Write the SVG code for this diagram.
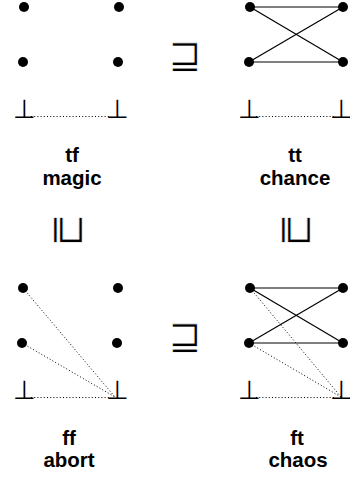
<svg xmlns="http://www.w3.org/2000/svg" width="350" height="477" viewBox="0 0 350 477">
<style>
.dot{fill:#000}
.edge{stroke:#000;stroke-width:1.2;fill:none}
.dotted{stroke:#000;stroke-width:1;stroke-dasharray:1 2.2;fill:none}
.bot{font-family:"DejaVu Sans",sans-serif;font-weight:200;font-size:26px;text-anchor:middle;fill:#000}
.rel{font-family:"DejaVu Sans",sans-serif;font-size:40px;text-anchor:middle;fill:#000;stroke:#fff;stroke-width:0.8}
.lbl{font-family:"Liberation Sans",Arial,sans-serif;font-weight:bold;font-size:20.5px;text-anchor:middle;fill:#000}
</style>
<rect width="350" height="477" fill="#fff"/>
<g id="connectors">
  <line class="dotted" x1="31" y1="116.5" x2="111" y2="116.5"/>
  <line class="edge" x1="250" y1="7" x2="343" y2="7"/>
  <line class="edge" x1="249" y1="62" x2="343" y2="62"/>
  <line class="edge" x1="250" y1="7" x2="343" y2="62"/>
  <line class="edge" x1="249" y1="62" x2="343" y2="7"/>
  <line class="dotted" x1="256" y1="116.5" x2="335" y2="116.5"/>
  <line class="dotted" x1="31" y1="397.5" x2="111" y2="397.5"/>
  <line class="dotted" x1="23" y1="288" x2="115" y2="397"/>
  <line class="dotted" x1="22" y1="343" x2="115" y2="397"/>
  <line class="edge" x1="250" y1="288" x2="343" y2="288"/>
  <line class="edge" x1="249" y1="343" x2="343" y2="343"/>
  <line class="edge" x1="250" y1="288" x2="343" y2="343"/>
  <line class="edge" x1="249" y1="343" x2="343" y2="288"/>
  <line class="dotted" x1="256" y1="397.5" x2="335" y2="397.5"/>
  <line class="dotted" x1="250" y1="288" x2="341" y2="397"/>
  <line class="dotted" x1="249" y1="343" x2="341" y2="397"/>
</g>
<g id="tf">
  <circle class="dot" cx="24" cy="7" r="5"/>
  <circle class="dot" cx="119" cy="7" r="5"/>
  <circle class="dot" cx="23" cy="62" r="5"/>
  <circle class="dot" cx="118" cy="62" r="5"/>
  <text class="bot" x="24" y="118">⊥</text>
  <text class="bot" x="117" y="118">⊥</text>
  <text class="lbl" x="72" y="162">tf</text>
  <text class="lbl" x="72" y="185">magic</text>
</g>
<g id="tt">
  <circle class="dot" cx="250" cy="7" r="5"/>
  <circle class="dot" cx="343" cy="7" r="5"/>
  <circle class="dot" cx="249" cy="62" r="5"/>
  <circle class="dot" cx="343" cy="62" r="5"/>
  <text class="bot" x="249" y="118">⊥</text>
  <text class="bot" x="341" y="118">⊥</text>
  <text class="lbl" x="295" y="162">tt</text>
  <text class="lbl" x="295" y="185">chance</text>
</g>
<g id="ff">
  <circle class="dot" cx="23" cy="288" r="5"/>
  <circle class="dot" cx="118" cy="288" r="5"/>
  <circle class="dot" cx="22" cy="343" r="5"/>
  <circle class="dot" cx="117" cy="343" r="5"/>
  <text class="bot" x="24" y="399">⊥</text>
  <text class="bot" x="117" y="399">⊥</text>
  <text class="lbl" x="69" y="445">ff</text>
  <text class="lbl" x="69" y="467">abort</text>
</g>
<g id="ft">
  <circle class="dot" cx="250" cy="288" r="5"/>
  <circle class="dot" cx="343" cy="288" r="5"/>
  <circle class="dot" cx="249" cy="343" r="5"/>
  <circle class="dot" cx="343" cy="343" r="5"/>
  <text class="bot" x="249" y="399">⊥</text>
  <text class="bot" x="341" y="399">⊥</text>
  <text class="lbl" x="297" y="445">ft</text>
  <text class="lbl" x="298" y="467">chaos</text>
</g>
<g id="relations">
  <text class="rel" x="185" y="68">⊒</text>
  <text class="rel" x="185" y="349">⊒</text>
  <text class="rel" transform="translate(71,230) rotate(90)" x="0" y="14">⊒</text>
  <text class="rel" transform="translate(299,230) rotate(90)" x="0" y="14">⊒</text>
</g>
</svg>
